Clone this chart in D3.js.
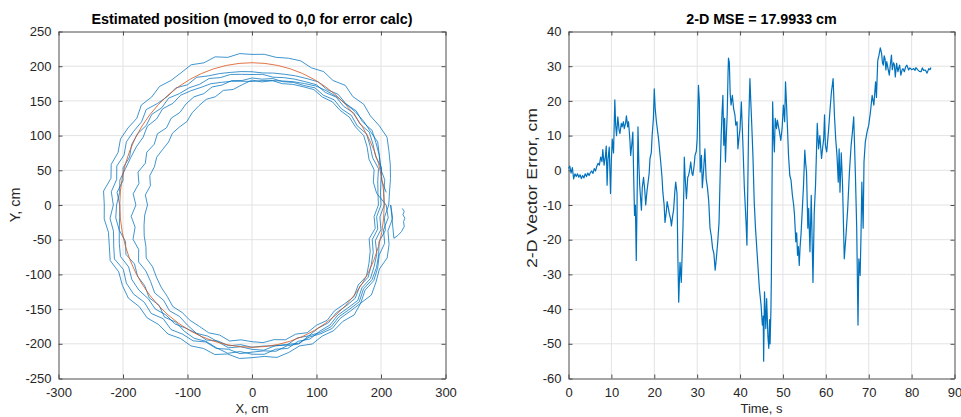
<!DOCTYPE html>
<html>
<head>
<meta charset="utf-8">
<script src="https://cdn.jsdelivr.net/npm/d3@7"></script>
<style>
body { margin: 0; background: #fff; }
svg { font-family: "Liberation Sans", Arial, Helvetica, sans-serif; }
</style>
</head>
<body>
<svg width="961" height="417"></svg>
<script>
// ---- data ----

// short tail on the right side where the track starts (cm)
var spurX = [233, 236, 234, 237, 235, 236, 232, 226, 220]
var spurY = [-5, -9, -14, -19, -24, -31, -38, -44, -48]

// track laps: radius (cm) sampled every 5 deg, clockwise from 3 o'clock
var lapAngles = [90, 95, 100, 105, 110, 115, 120, 125, 130, 135, 140, 145,
  150, 155, 160, 165, 170, 175, 180, 185, 190, 195, 200, 205,
  210, 215, 220, 225, 230, 235, 240, 245, 250, 255, 260, 265,
  270, 275, 280, 285, 290, 295, 300, 305, 310, 315, 320, 325,
  330, 335, 340, 345, 350, 355, 0, 5, 10, 15, 20, 25,
  30, 35, 40, 45, 50, 55, 60, 65, 70, 75, 80, 85]

var lap1 = [215, 219, 214, 220, 223, 218, 222, 226, 220, 224, 219, 221,
  218, 221, 216, 220, 223, 219, 220, 222, 218, 223, 220, 224,
  222, 227, 225, 230, 228, 234, 232, 228, 234, 229, 226, 230,
  229, 231, 222, 226, 221, 225, 222, 218, 224, 220, 223, 219,
  220, 223, 218, 221, 216, 219, 217, 218, 216, 219, 221, 218,
  222, 219, 225, 221, 226, 224, 228, 231, 226, 222, 218, 214]
var lap2 = [212, 206, 210, 204, 209, 213, 215, 211, 217, 213, 210, 214,
  212, 208, 213, 210, 214, 211, 212, 215, 211, 214, 210, 216,
  215, 219, 214, 221, 218, 224, 225, 220, 227, 222, 218, 221,
  215, 219, 213, 217, 211, 215, 212, 209, 214, 207, 204, 206,
  200, 203, 198, 196, 194, 193, 192, 191, 193, 195, 198, 201,
  205, 203, 208, 206, 211, 209, 215, 212, 210, 206, 209, 205]
var lap3 = [205, 199, 203, 198, 206, 209, 212, 208, 214, 210, 207, 211,
  210, 213, 209, 214, 211, 216, 215, 212, 217, 213, 209, 212,
  210, 206, 211, 204, 208, 203, 205, 201, 208, 203, 209, 206,
  205, 210, 203, 207, 202, 206, 205, 200, 203, 198, 201, 196,
  195, 192, 194, 190, 191, 189, 188, 189, 187, 190, 193, 196,
  200, 198, 203, 201, 206, 204, 210, 207, 204, 208, 203, 200]
var lap4 = [200, 194, 198, 193, 200, 204, 208, 204, 209, 206, 203, 207,
  205, 208, 204, 209, 206, 210, 208, 205, 209, 204, 201, 204,
  200, 196, 199, 194, 197, 192, 190, 194, 187, 191, 184, 188,
  180, 185, 178, 183, 176, 180, 175, 179, 173, 177, 174, 178,
  180, 177, 181, 179, 182, 180, 183, 182, 185, 184, 188, 190,
  195, 193, 198, 196, 201, 199, 205, 202, 199, 203, 198, 196]
var lap5 = [196, 190, 194, 188, 195, 200, 205, 201, 206, 202, 199, 203,
  200, 203, 198, 201, 197, 199, 197, 195, 199, 194, 196, 193,
  192, 189, 191, 186, 184, 181, 178, 181, 175, 173, 170, 167,
  162, 166, 160, 164, 161, 163, 160, 158, 161, 159, 157, 162,
  165, 168, 166, 171, 169, 174, 180, 178, 182, 181, 185, 188,
  192, 190, 194, 193, 197, 196, 200, 197, 193, 196, 191, 194]
var lap6 = [208, 212, 207, 213, 210, 215, 218, 214, 220, 216, 213, 217,
  214, 210, 212, 208, 206, 204, 205, 202, 206, 203, 207, 204,
  205, 209, 207, 212, 210, 214, 215, 211, 217, 213, 209, 212,
  210, 206, 208, 203, 200, 198, 195, 198, 193, 196, 191, 193,
  190, 187, 186, 183, 181, 179, 178, 180, 182, 185, 189, 193,
  198, 201, 204, 206, 209, 211, 212, 215, 210, 207, 204, 209]

// reference circle radius, cm
var refRadius = 205

// error vs time
var errTime = [0.0, 0.3, 0.6, 0.9, 1.2, 1.5, 1.8, 2.1, 2.4, 2.7, 3.0, 3.3, 3.6, 3.9,
  4.2, 4.5, 4.8, 5.1, 5.4, 5.7, 6.0, 6.3, 6.6, 6.9, 7.2, 7.5, 7.8, 8.0, 8.3, 8.6,
  8.8, 9.0, 9.2, 9.5, 9.8, 10.0, 10.2, 10.5, 10.8, 11.0, 11.2, 11.5, 11.8, 12.0,
  12.3, 12.5, 12.8, 13.0, 13.3, 13.5, 13.8, 14.0, 14.3, 14.5, 14.8, 15.0, 15.2,
  15.4, 15.6, 15.8, 16.0, 16.2, 16.4, 16.6, 16.8, 17.0, 17.2, 17.5, 17.8, 18.0,
  18.3, 18.5, 18.8, 19.0, 19.3, 19.5, 19.8, 20.0, 20.2, 20.5, 20.8, 21.0, 21.3,
  21.5, 21.8, 22.0, 22.3, 22.5, 22.8, 23.0, 23.3, 23.5, 23.8, 24.0, 24.3, 24.5,
  24.8, 25.0, 25.3, 25.5, 25.7, 25.9, 26.0, 26.3, 26.5, 26.7, 26.9, 27.0, 27.2,
  27.5, 27.8, 28.0, 28.3, 28.5, 28.8, 29.0, 29.3, 29.5, 29.8, 30.0, 30.3, 30.5,
  30.7, 31.0, 31.2, 31.5, 31.8, 32.1, 32.4, 32.7, 33.0, 33.3, 33.6, 33.9, 34.2,
  34.5, 34.8, 35.1, 35.4, 35.6, 35.8, 36.0, 36.2, 36.4, 36.6, 36.8, 37.0, 37.2,
  37.3, 37.5, 37.7, 37.9, 38.2, 38.5, 38.8, 39.0, 39.3, 39.5, 39.8, 40.0, 40.3,
  40.5, 40.7, 41.0, 41.2, 41.4, 41.6, 41.8, 42.0, 42.3, 42.5, 42.7, 43.0, 43.3,
  43.6, 44.1, 44.5, 44.9, 45.2, 45.4, 45.5, 45.7, 46.0, 46.2, 46.5, 46.7, 46.9,
  47.0, 47.2, 47.3, 47.6, 47.8, 48.0, 48.2, 48.5, 48.7, 48.9, 49.2, 49.5, 49.8,
  50.1, 50.4, 50.6, 50.8, 51.0, 51.3, 51.6, 51.9, 52.2, 52.5, 52.7, 53.0, 53.2,
  53.4, 53.6, 53.8, 54.0, 54.2, 54.4, 54.8, 55.1, 55.3, 55.5, 55.8, 56.0, 56.3,
  56.6, 57.0, 57.3, 57.6, 58.0, 58.3, 58.6, 59.0, 59.3, 59.5, 59.7, 59.9, 60.2,
  60.6, 61.0, 61.3, 61.7, 62.0, 62.3, 62.6, 62.9, 63.1, 63.3, 63.6, 63.9, 64.3,
  64.7, 65.1, 65.5, 65.9, 66.2, 66.5, 66.7, 66.9, 67.2, 67.5, 67.7, 68.0, 68.2,
  68.4, 68.7, 68.9, 69.2, 69.6, 70.0, 70.4, 70.8, 71.2, 71.6, 71.8, 72.1, 72.4,
  72.7, 73.0, 73.2, 73.4, 73.6, 73.8, 74.0, 74.2, 74.5, 74.8, 75.0, 75.3, 75.5,
  75.8, 76.0, 76.2, 76.5, 76.8, 77.0, 77.2, 77.5, 77.8, 78.0, 78.3, 78.6, 78.9,
  79.3, 79.6, 80.0, 80.5, 80.8, 81.0, 81.4, 81.8, 82.2, 82.5, 82.8, 83.2, 83.6,
  84.0, 84.3, 84.5]
var errValue = [0.5, 1.2, -0.8, 0.8, -2.5, -1.0, -1.8, -1.0, -2.0, -1.3, -2.4, -1.5, -2.2, -1.0,
  -1.8, -0.8, -1.5, -0.7, -0.2, -0.9, 0.5, -0.2, 1.2, 2.0, 1.5, 3.8, 2.5, 6.0, 1.5, 4.0,
  7.0, -4.3, 3.0, 6.7, -6.7, 3.0, 9.0, 5.0, 20.3, 13.0, 10.0, 15.4, 11.5, 10.6,
  13.5, 12.5, 14.0, 12.0, 13.5, 15.7, 12.5, 14.0, 9.0, 4.3, 8.0, 11.0, -2.0,
  -13.0, -10.0, -26.0, -8.0, 12.5, 2.0, -4.3, -8.0, -11.5, -5.0, -2.0, -6.0, -10.0,
  -6.0, -4.0, -1.0, 3.4, 5.0, 10.0, 15.0, 23.5, 18.0, 14.0, 11.0, 9.0, 5.0,
  2.4, -2.0, -6.3, -10.0, -15.0, -12.0, -9.0, -11.0, -12.5, -14.0, -16.0, -13.0, -11.5,
  -6.0, -3.4, -6.7, -25.0, -38.0, -30.0, -26.5, -32.3, -24.0, -16.0, -5.0, 3.8, -2.0,
  -8.2, -2.0, -1.5, 0.5, 2.4, -1.0, -1.5, 1.5, 4.3, 5.5, 9.0, 24.5, 20.0,
  -0.5, 4.3, -5.0, 0.0, 6.2, -2.5, -5.0, -9.0, -16.7, -19.0, -22.5, -24.0, -28.8,
  -25.0, -20.6, -15.0, 0.5, 10.0, 16.8, 21.6, 7.2, 15.0, 2.4, 10.0, 16.0, 28.0,
  32.3, 31.0, 22.0, 18.8, 21.6, 17.8, 16.0, 13.0, 14.0, 6.2, 10.0, 12.0, 19.7,
  13.0, 6.2, -5.0, -10.0, -15.0, -21.6, -5.0, 13.0, 26.4, 20.0, 14.0, 4.3, -9.0,
  -16.7, -26.3, -34.0, -38.8, -44.6, -42.0, -55.0, -35.0, -45.6, -37.0, -48.0, -51.3, -43.0,
  -50.0, -40.0, -31.0, 19.7, 10.0, 5.3, 15.0, 12.0, 14.5, 13.0, 11.0, 8.6, 12.0,
  18.8, 14.0, 25.5, 20.0, 14.0, 4.3, -1.5, -3.0, -7.2, -10.0, -13.0, -20.6, -18.0,
  -24.5, -22.0, -27.4, -22.0, -18.7, -14.0, -4.3, 5.8, 2.0, -0.5, -16.7, -11.0, -23.5,
  -7.2, -32.3, -12.0, -4.3, 13.5, 6.2, 10.0, 3.4, 7.0, 9.0, 16.0, 7.2, 5.3,
  11.0, 17.8, 22.5, 26.4, 16.0, 9.0, 4.3, -3.4, 6.2, -6.3, 5.0, -4.3, -25.5,
  -18.7, -11.0, -0.5, 7.2, 11.0, 15.4, 7.0, -1.5, -16.7, -44.6, -25.5, -30.3, -18.7,
  -3.4, -16.7, 2.4, 8.1, 11.0, 13.0, 16.8, 21.6, 18.8, 25.5, 21.0, 31.6, 33.2,
  35.3, 33.7, 31.0, 30.3, 33.0, 32.2, 28.9, 31.3, 29.3, 27.4, 30.0, 33.2, 29.0,
  31.0, 30.3, 26.9, 30.8, 28.4, 29.5, 30.3, 27.4, 29.0, 29.3, 28.4, 29.8, 30.3,
  28.9, 29.5, 29.0, 29.3, 28.8, 29.6, 29.0, 28.5, 28.4, 29.5, 28.8, 28.9, 28.0,
  29.3, 29.0, 29.6]

var posXTicks = [-300, -200, -100, 0, 100, 200, 300]
var posYTicks = [-250, -200, -150, -100, -50, 0, 50, 100, 150, 200, 250]
var timeTicks = [0, 10, 20, 30, 40, 50, 60, 70, 80, 90]
var errTicks = [-60, -50, -40, -30, -20, -10, 0, 10, 20, 30, 40]

// ---- layout ----
var blue = "#0072BD"
var orange = "#D95319"
var axisColor = "#4d4d4d"
var gridColor = "#e3e3e3"

var svg = d3.select("svg")

var xPos = d3.scaleLinear().domain([-300, 300]).range([58.5, 445.5])
var yPos = d3.scaleLinear().domain([-250, 250]).range([378.5, 31.5])
var xTime = d3.scaleLinear().domain([0, 90]).range([568.5, 954.5])
var yErr = d3.scaleLinear().domain([-60, 40]).range([378.5, 31.5])

// plain hyphen for negatives, like the original
var plain = function(d) { return "" + d }

//draws grid, box, inward ticks and labels for one subplot
function drawFrame(x, y, xticks, yticks) {
    var g = svg.append("g")
    var x0 = x.range()[0], x1 = x.range()[1]
    var y0 = y.range()[1], y1 = y.range()[0]

    // grid
    g.append("g").selectAll("line").data(xticks.slice(1, -1)).enter().append("line")
        .attr("x1", d => x(d)).attr("x2", d => x(d))
        .attr("y1", y0).attr("y2", y1)
        .style("stroke", gridColor).style("stroke-width", 1)
    g.append("g").selectAll("line").data(yticks.slice(1, -1)).enter().append("line")
        .attr("y1", d => y(d)).attr("y2", d => y(d))
        .attr("x1", x0).attr("x2", x1)
        .style("stroke", gridColor).style("stroke-width", 1)

    // axes with inward ticks
    var bottom = g.append("g").attr("transform", "translate(0," + y1 + ")")
        .call(d3.axisBottom(x).tickValues(xticks).tickSizeInner(-4).tickSizeOuter(0).tickFormat(plain))
    g.append("g").attr("transform", "translate(0," + y0 + ")")
        .call(d3.axisTop(x).tickValues(xticks).tickSizeInner(-4).tickSizeOuter(0).tickFormat(""))
    g.append("g").attr("transform", "translate(" + x0 + ",0)")
        .call(d3.axisLeft(y).tickValues(yticks).tickSizeInner(-4).tickSizeOuter(0).tickPadding(7).tickFormat(plain))
    g.append("g").attr("transform", "translate(" + x1 + ",0)")
        .call(d3.axisRight(y).tickValues(yticks).tickSizeInner(-4).tickSizeOuter(0).tickFormat(""))

    g.selectAll(".domain").style("stroke", axisColor)
    g.selectAll(".tick line").style("stroke", axisColor)
    g.selectAll(".tick text")
        .style("font-size", "13px")
        .style("fill", "#262626")
        .style("font-family", "'Liberation Sans', Arial, sans-serif")
    bottom.selectAll(".tick text").attr("y", 18.5).attr("dy", 0)
    return g
}

function addTitle(cx, text) {
    svg.append("text")
        .attr("x", cx).attr("y", 24)
        .attr("text-anchor", "middle")
        .style("font-size", "14.3px").style("font-weight", "bold").style("fill", "#000")
        .text(text)
}

function addXLabel(cx, text) {
    svg.append("text")
        .attr("x", cx).attr("y", 413)
        .attr("text-anchor", "middle")
        .style("font-size", "13px").style("fill", "#262626")
        .text(text)
}

function addYLabel(cx, cy, text, len) {
    var t = svg.append("text")
        .attr("transform", "translate(" + cx + "," + cy + ") rotate(-90)")
        .attr("text-anchor", "middle")
        .style("font-size", "14.3px").style("fill", "#262626")
        .text(text)
    if (len) t.attr("textLength", len).attr("lengthAdjust", "spacingAndGlyphs")
}

// ---- left: estimated position ----
drawFrame(xPos, yPos, posXTicks, posYTicks)

var track = []
spurX.forEach(function(v, i) { track.push([v, spurY[i]]) })
var laps = [lap1, lap2, lap3, lap4, lap5, lap6]
laps.forEach(function(lap) {
    lap.forEach(function(r, i) {
        // pointRadial: angle clockwise from 12 o'clock
        var p = d3.pointRadial(lapAngles[i] * Math.PI / 180, r)
        track.push([p[0], -p[1]])
    })
})

var posLine = d3.line()
    .x(d => xPos(d[0]))
    .y(d => yPos(d[1]))

svg.append("path")
    .datum(track)
    .attr("d", posLine)
    .style("fill", "none")
    .style("stroke", blue)
    .style("stroke-width", 0.75)
    .style("stroke-linejoin", "round")

svg.append("ellipse")
    .attr("cx", xPos(0))
    .attr("cy", yPos(0))
    .attr("rx", xPos(refRadius) - xPos(0))
    .attr("ry", yPos(0) - yPos(refRadius))
    .style("fill", "none")
    .style("stroke", orange)
    .style("stroke-width", 0.8)

addTitle((xPos.range()[0] + xPos.range()[1]) / 2, "Estimated position (moved to 0,0 for error calc)")
addXLabel((xPos.range()[0] + xPos.range()[1]) / 2, "X, cm")
addYLabel(20, 205, "Y, cm")

// ---- right: error vs time ----
drawFrame(xTime, yErr, timeTicks, errTicks)

var errLine = d3.line()
    .x((d, i) => xTime(errTime[i]))
    .y(d => yErr(d))

svg.append("path")
    .datum(errValue)
    .attr("d", errLine)
    .style("fill", "none")
    .style("stroke", blue)
    .style("stroke-width", 1.2)
    .style("stroke-linejoin", "round")

addTitle((xTime.range()[0] + xTime.range()[1]) / 2, "2-D MSE = 17.9933 cm")
addXLabel((xTime.range()[0] + xTime.range()[1]) / 2, "Time, s")
addYLabel(537, 188, "2-D Vector Error, cm", 160)
</script>
</body>
</html>
